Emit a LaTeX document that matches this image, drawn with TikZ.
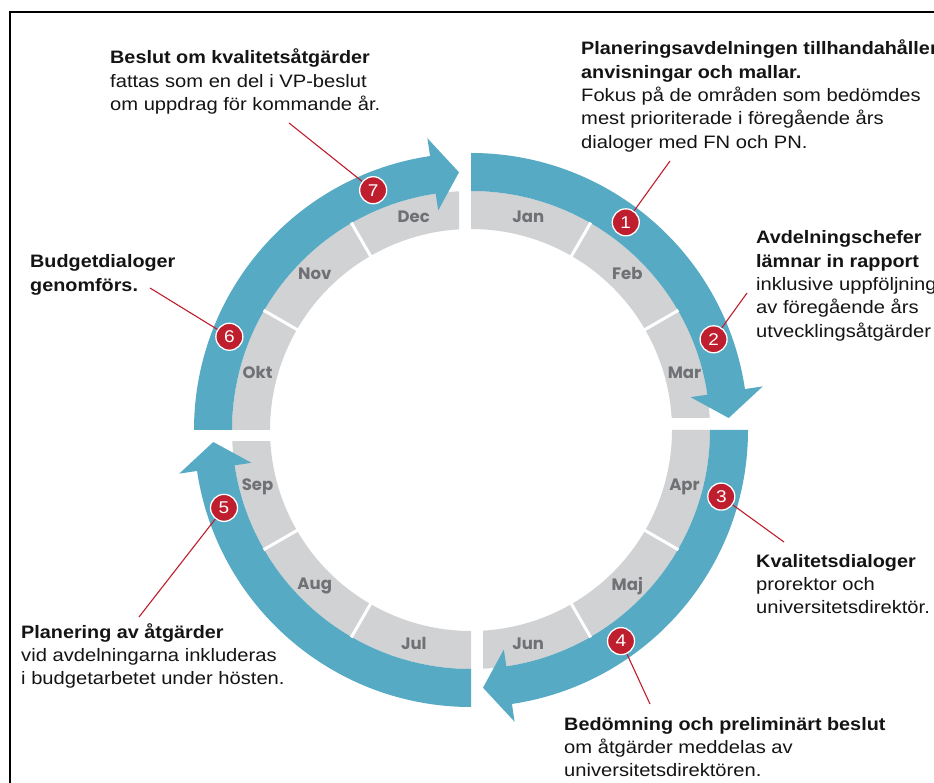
\documentclass[tikz,border=0pt]{standalone}
\usepackage{fontspec}
\setmainfont{Liberation Sans}[FakeStretch=1.12]
\newfontfamily\bdfont{Liberation Sans}[FakeStretch=1.10]
\newfontfamily\monfont{Poppins}
\definecolor{ringblue}{RGB}{86,170,196}
\definecolor{ringgrey}{RGB}{209,210,212}
\definecolor{mongrey}{RGB}{112,113,116}
\definecolor{badgered}{RGB}{190,30,45}
\definecolor{txt}{RGB}{20,20,20}
\newcommand{\hdg}[1]{{\bdfont\bfseries #1}}
% #1 clip rectangle, #2 start angle, #3 grey end angle, #4 band end angle, #5 arrow base angle, #6 tip angle
\newcommand{\ringquad}[6]{%
  \begin{scope}
    \clip #1;
    \fill[ringgrey] (#2:239) arc[start angle=#2, end angle=#3, radius=239]
      -- (#3:201) arc[start angle=#3, end angle=#2, radius=201] -- cycle;
    \fill[ringblue] (#2:277) arc[start angle=#2, end angle=#4, radius=277]
      -- (#4:239) arc[start angle=#4, end angle=#2, radius=239] -- cycle;
    \fill[ringblue] (#5:222) -- (#5:295) -- (#6:258) -- cycle;
  \end{scope}}
\tikzset{
  txtblock/.style={anchor=base west, align=left, inner sep=0pt, text=txt,
    font=\fontsize{18}{23.3}\selectfont},
  monthlbl/.style={font=\monfont\bfseries\fontsize{16.5}{17}\selectfont, text=mongrey, inner sep=0pt},
  badge/.style={circle, fill=badgered, draw=white, line width=1.3pt, minimum size=27pt,
    inner sep=0pt, text=white, font=\fontsize{17}{17}\selectfont},
  leader/.style={draw=badgered, line width=1.1pt},
  divider/.style={draw=white, line width=3pt},
}
\begin{document}
\begin{tikzpicture}[x=1pt,y=1pt]
\useasboundingbox (0,0) rectangle (934,782);
\fill[white] (0,0) rectangle (934,782);
% frame
\draw[line width=2pt, black] (10,-20) -- (10,769.5) -- (960,769.5);

\begin{scope}[shift={(471,352)}]
  \ringquad{(0,12) rectangle (400,400)}{90}{-5}{7.5}{8.5}{2.67}
  \ringquad{(12,0) rectangle (400,-400)}{0}{-95}{-82.5}{-81.5}{-87.33}
  \ringquad{(0,-12) rectangle (-400,-400)}{-90}{-185}{-172.5}{-171.5}{-177.33}
  \ringquad{(-12,0) rectangle (-400,400)}{180}{85}{97.5}{98.5}{92.67}
  \foreach \a in {60,30,-30,-60,-120,-150,150,120}
    \draw[divider] (\a:199) -- (\a:239.5);
  % months
  \node[monthlbl] (jan) at (75:221) {Jan};
  \node[monthlbl] (feb) at (45:221) {Feb};
  \node[monthlbl] (mar) at (15:221) {Mar};
  \node[monthlbl] (apr) at (-15:221) {Apr};
  \node[monthlbl] (maj) at (-45:221) {Maj};
  \node[monthlbl] (jun) at (-75:221) {Jun};
  \node[monthlbl] (jul) at (-105:221) {Jul};
  \node[monthlbl] (aug) at (-135:221) {Aug};
  \node[monthlbl] (sep) at (-165:221) {Sep};
  \node[monthlbl] (okt) at (165:221) {Okt};
  \node[monthlbl] (nov) at (135:221) {Nov};
  \node[monthlbl] (dec) at (105:221) {Dec};
  % badge positions
  \coordinate (p1) at (53.3:259);
  \coordinate (p2) at (20.5:259);
  \coordinate (p3) at (-14.9:259);
  \coordinate (p4) at (-54.6:259);
  \coordinate (p5) at (-162.5:259);
  \coordinate (p6) at (158.9:259);
  \coordinate (p7) at (112.2:259);
\end{scope}

% leader ends
\coordinate (e1) at (670,621);
\coordinate (e2) at (747,489);
\coordinate (e3) at (784,240);
\coordinate (e4) at (650,78);
\coordinate (e5) at (139,165);
\coordinate (e6) at (150,494);
\coordinate (e7) at (289,659);

\foreach \i in {1,...,7} \draw[leader] (e\i) -- (p\i);

\node[badge] (b1) at (p1) {1};
\node[badge] (b2) at (p2) {2};
\node[badge] (b3) at (p3) {3};
\node[badge] (b4) at (p4) {4};
\node[badge] (b5) at (p5) {5};
\node[badge] (b6) at (p6) {6};
\node[badge] (b7) at (p7) {7};

% text blocks (anchor = baseline of last line)
\node[txtblock] (t7) at (110,671.4) {\hdg{Beslut om kvalitetsåtgärder}\\fattas som en del i VP-beslut\\om uppdrag för kommande år.};
\node[txtblock] (t1) at (581,633.8) {\hdg{Planeringsavdelningen tillhandahåller}\\\hdg{anvisningar och mallar.}\\Fokus på de områden som bedömdes\\mest prioriterade i föregående års\\dialoger med FN och PN.};
\node[txtblock] (t2) at (756,444.8) {\hdg{Avdelningschefer}\\\hdg{lämnar in rapport}\\inklusive uppföljning\\av föregående års\\utvecklingsåtgärder};
\node[txtblock] (t3) at (756,168.4) {\hdg{Kvalitetsdialoger}\\prorektor och\\universitetsdirektör.};
\node[txtblock] (t4) at (564,5.4) {\hdg{Bedömning och preliminärt beslut}\\om åtgärder meddelas av\\universitetsdirektören.};
\node[txtblock] (t5) at (21,97.4) {\hdg{Planering av åtgärder}\\vid avdelningarna inkluderas\\i budgetarbetet under hösten.};
\node[txtblock] (t6) at (30,490.7) {\hdg{Budgetdialoger}\\\hdg{genomförs.}};
\end{tikzpicture}
\end{document}
